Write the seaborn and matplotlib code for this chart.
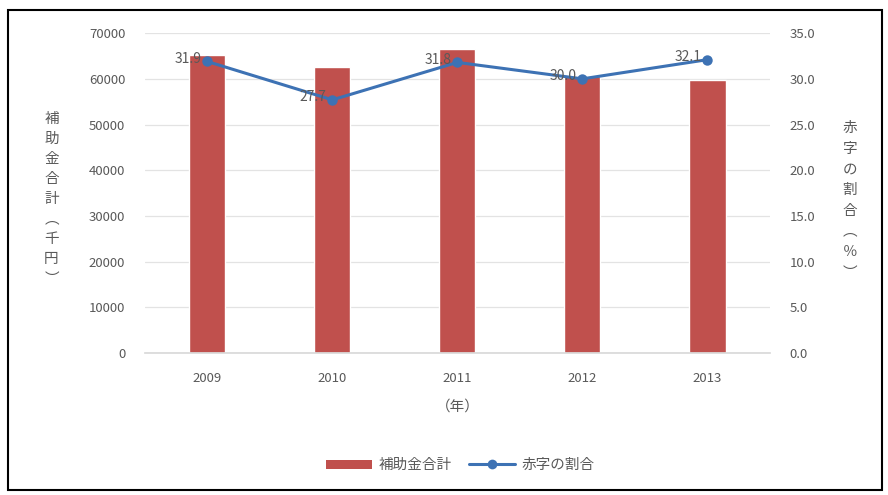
import matplotlib
matplotlib.use("Agg")
import matplotlib.pyplot as plt
import seaborn as sns
import numpy as np
import pandas as pd
from matplotlib.patches import Rectangle
from matplotlib.lines import Line2D
from matplotlib.patches import Patch

years = ["2009", "2010", "2011", "2012", "2013"]
subsidy = [65300, 62700, 66500, 60700, 59700]
deficit_ratio = [31.9, 27.7, 31.8, 30.0, 32.1]
left_ticks = [0, 10000, 20000, 30000, 40000, 50000, 60000, 70000]
right_ticks = [0.0, 5.0, 10.0, 15.0, 20.0, 25.0, 30.0, 35.0]

sns.set_theme(style="white")
plt.rcParams['font.family'] = ['Noto Sans CJK JP', 'DejaVu Sans']

bar_color = "#C0504D"
line_color = "#3D72B4"
text_color = "#595959"

df = pd.DataFrame({"year": years, "subsidy": subsidy, "ratio": deficit_ratio})

fig = plt.figure(figsize=(8.88, 4.95), dpi=100)
ax = fig.add_axes([0.163, 0.287, 0.704, 0.646])

sns.barplot(data=df, x="year", y="subsidy", color=bar_color, width=0.29,
            saturation=1, ax=ax)
ax.set_ylim(0, 70000)
ax.set_yticks(left_ticks)
ax.set_yticklabels([str(t) for t in left_ticks])
ax.yaxis.grid(True, color="#E3E3E3", linewidth=0.9)
ax.set_axisbelow(True)
for s in ["top", "left", "right"]:
    ax.spines[s].set_visible(False)
ax.spines["bottom"].set_color("#D9D9D9")
ax.tick_params(axis="both", length=0, colors=text_color, labelsize=9.5)
ax.tick_params(axis="x", pad=14)
ax.tick_params(axis="y", pad=14)
ax.set_xlabel("（年）", color=text_color, fontsize=10.5, labelpad=10)
ax.set_ylabel("")

ax2 = ax.twinx()
pos = np.arange(len(years))
sns.lineplot(x=pos, y=df["ratio"], ax=ax2, color=line_color, linewidth=2.2,
             marker="o", markersize=7.5, markeredgewidth=0)
ax2.set_ylim(0, 35)
ax2.set_yticks(right_ticks)
ax2.set_yticklabels([f"{t:.1f}" for t in right_ticks])
for s in ["top", "left", "right", "bottom"]:
    ax2.spines[s].set_visible(False)
ax2.tick_params(axis="y", length=0, colors=text_color, labelsize=9.5, pad=14)
ax2.set_ylabel("")
ax2.set_xlim(-0.5, len(years) - 0.5)
ax.set_xlim(-0.5, len(years) - 0.5)

for p, v in zip(pos, deficit_ratio):
    ax2.annotate(f"{v:.1f}", (p, v), xytext=(-4, 2), textcoords="offset points",
                 ha="right", va="center", fontsize=10, color=text_color)

left_label = ["補", "助", "金", "合", "計", "︵", "千", "円", "︶"]
right_label = ["赤", "字", "の", "割", "合", "︵", "％", "︶"]
fig.text(0.058, 0.598, "\n".join(left_label), ha="center", va="center",
         fontsize=10.5, color=text_color, linespacing=1.55)
fig.text(0.957, 0.595, "\n".join(right_label), ha="center", va="center",
         fontsize=10.5, color=text_color, linespacing=1.6)

handles = [Patch(facecolor=bar_color, edgecolor="none"),
           Line2D([0], [0], color=line_color, linewidth=2.2, marker="o",
                  markersize=7, markeredgewidth=0)]
leg = fig.legend(handles, ["補助金合計", "赤字の割合"], loc="center",
                 bbox_to_anchor=(0.518, 0.06), ncol=2, frameon=False,
                 fontsize=10.5, handlelength=3.2, handleheight=0.6,
                 columnspacing=1.2, handletextpad=0.4)
for t in leg.get_texts():
    t.set_color(text_color)

fig.patches.append(Rectangle((0.009, 0.01), 0.984, 0.97, transform=fig.transFigure,
                             fill=False, edgecolor="black", linewidth=1.5))

fig.savefig("out.png", dpi=100)
